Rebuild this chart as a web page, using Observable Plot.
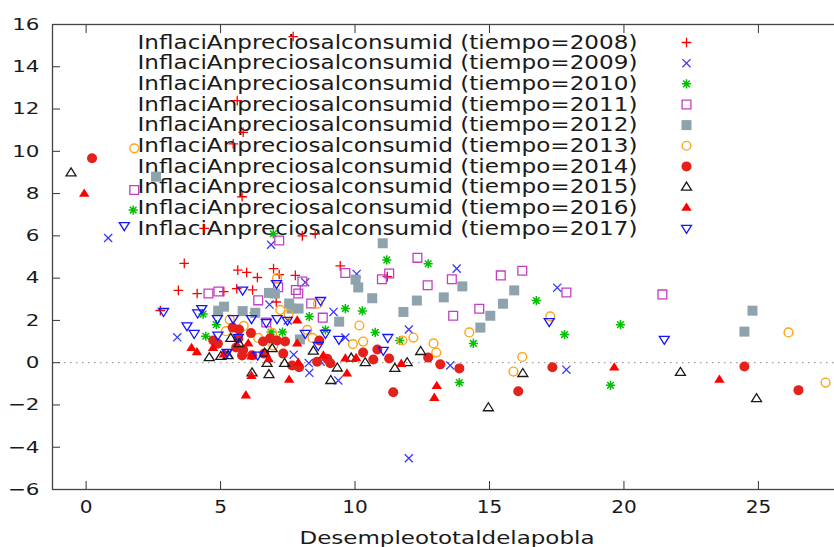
<!DOCTYPE html>
<html><head><meta charset="utf-8">
<script src="https://cdn.jsdelivr.net/npm/d3@7"></script>
<script src="https://cdn.jsdelivr.net/npm/@observablehq/plot@0.6"></script>
<style>body{margin:0;background:#fff}svg{display:block}</style>
</head><body><div id="chart"></div>
<script>
const years = [2008, 2009, 2010, 2011, 2012, 2013, 2014, 2015, 2016, 2017];
const labelPrefix = "InflaciAnpreciosalconsumid";
const xLabel = "Desempleototaldelapobla";
const xTicks = [0, 5, 10, 15, 20, 25];
const yTicks = [-6, -4, -2, 0, 2, 4, 6, 8, 10, 12, 14, 16];

const s2008 = [[7.70,15.43],[5.62,12.4],[5.84,10.9],[5.47,10.35],[5.80,7.85],[4.39,6.35],[8.04,6.0],[8.52,6.1],
  [3.65,4.7],[3.43,3.42],[4.13,3.27],[5.64,4.38],[5.97,4.27],[6.37,4.03],[5.6,3.5],[6.19,3.44],[2.76,2.47],
  [6.97,4.45],[7.18,4.17],[7.78,4.13],[7.07,2.87],[9.45,4.58],[11.2,4.07],[5.12,3.36]];
const s2009 = [[0.82,5.9],[6.88,5.58],[10.06,4.2],[13.78,4.45],[3.39,1.2],[8.15,3.8],[6.82,2.75],[9.2,2.4],
  [7.5,2.0],[12.0,1.57],[9.64,1.19],[7.72,0.38],[8.28,-0.02],[8.3,-0.48],[8.72,0.05],[9.38,-0.84],[13.54,-0.13],
  [17.52,3.55],[17.86,-0.33],[12.0,-4.52],[5.28,0.43]];
const s2010 = [[1.75,7.22],[6.96,6.1],[12.72,4.68],[11.18,4.86],[9.64,2.56],[10.27,2.45],[8.3,2.18],[7.3,1.45],
  [8.9,1.55],[10.75,1.43],[11.66,1.05],[14.4,0.91],[13.88,-0.94],[16.74,2.94],[17.79,1.33],[19.87,1.8],[19.5,-1.07],
  [4.35,2.3],[4.45,1.25],[4.84,1.8],[6.25,2.36],[6.88,1.45]];
const s2011 = [[1.79,8.17],[7.18,5.78],[9.64,4.24],[11.0,3.95],[11.27,4.22],[12.32,4.96],[13.6,3.95],[15.42,4.13],
  [16.22,4.35],[12.7,3.66],[8.04,3.84],[7.14,3.57],[7.8,3.44],[7.89,3.27],[8.37,2.8],[8.8,2.13],[14.62,2.55],
  [13.65,2.22],[6.7,1.9],[17.86,3.32],[21.43,3.23],[4.55,3.27],[4.92,3.37],[6.4,2.95]];
const s2012 = [[2.6,8.8],[11.03,5.65],[10.02,3.93],[10.12,3.56],[10.64,3.05],[11.8,2.4],[12.3,2.94],[13.3,3.09],
  [13.99,3.61],[15.92,3.42],[15.5,2.79],[15.03,2.22],[14.66,1.66],[9.41,1.94],[6.8,3.3],[7.02,3.27],[7.55,2.8],
  [7.9,2.56],[7.64,2.56],[24.78,2.46],[24.48,1.47],[4.91,2.46],[5.13,2.65],[5.82,2.44],[6.29,2.36],[7.95,1.1]];
const s2013 = [[1.79,10.14],[7.1,4.0],[7.22,2.5],[7.53,2.3],[10.16,1.76],[8.62,2.79],[8.22,1.55],[8.42,1.17],
  [10.3,1.0],[9.92,0.88],[11.76,1.05],[12.17,1.19],[12.92,0.91],[13.02,0.48],[14.25,1.43],[16.22,0.27],[15.89,-0.42],
  [17.26,2.19],[26.12,1.43],[27.5,-0.94],[5.2,1.49],[5.34,2.04],[5.86,1.74],[6.4,1.17],[6.96,0.81],[6.92,1.4]];
const s2014 = [[0.22,9.67],[4.73,1.05],[4.9,0.9],[5.66,1.15],[6.13,1.4],[5.58,0.72],[5.84,0.6],[5.8,0.34],
  [6.17,0.35],[6.62,0.43],[6.58,1.0],[6.84,1.15],[7.1,1.05],[5.69,1.57],[5.45,1.66],[7.4,1.0],[7.33,0.43],
  [7.66,-0.13],[7.92,-0.22],[8.97,0.19],[9.08,-0.03],[8.67,1.05],[10.3,0.48],[10.68,0.15],[10.83,0.62],[11.27,0.2],
  [11.42,-1.4],[12.72,0.24],[13.17,-0.08],[13.88,-0.27],[16.07,-1.35],[8.59,0.05],[17.34,-0.22],[24.48,-0.18],[26.49,-1.3]];
const s2015 = [[-0.56,8.98],[4.58,0.24],[5.01,0.3],[5.38,1.15],[5.69,0.9],[6.17,-0.48],[6.8,-0.56],[6.64,0.45],
  [6.92,0.67],[5.28,0.34],[6.73,-0.03],[7.38,-0.03],[8.45,0.55],[9.1,-0.84],[9.34,-0.25],[9.86,0.22],[10.38,0.0],
  [11.48,-0.27],[11.94,0.0],[12.44,0.53],[14.96,-2.13],[16.24,-0.51],[22.1,-0.46],[24.93,-1.7]];
const s2016 = [[-0.07,8.0],[3.92,0.7],[4.12,0.5],[4.72,0.7],[5.12,0.4],[5.94,-1.54],[6.15,-0.62],[6.03,0.91],
  [6.15,0.3],[6.79,0.17],[7.85,2.0],[7.85,0.91],[7.89,0.0],[7.55,-0.8],[8.82,0.34],[9.64,0.2],[10.04,0.22],
  [9.7,-0.51],[11.72,-0.05],[13.04,-1.1],[12.95,-1.66],[19.64,-0.22],[23.55,-0.8]];
const s2017 = [[1.42,6.48],[2.88,2.42],[3.75,1.74],[4.02,1.38],[4.15,2.35],[4.3,2.56],[4.9,1.3],[4.88,2.08],
  [5.47,2.08],[5.82,3.43],[6.15,2.08],[5.24,0.48],[6.38,0.36],[7.08,3.74],[8.72,2.94],[6.7,1.9],[7.1,2.08],
  [7.48,2.0],[8.15,1.38],[8.63,0.81],[9.4,1.1],[11.22,1.19],[11.05,0.58],[17.22,1.94],[21.5,1.1],[8.9,1.38],[5.66,1.2]];

const seriesData = [s2008, s2009, s2010, s2011, s2012, s2013, s2014, s2015, s2016, s2017];

// custom symbols (size = π r²)
const plusSym = {draw(c, size) { const r = Math.sqrt(size / Math.PI);
  c.moveTo(-r, 0); c.lineTo(r, 0); c.moveTo(0, -r); c.lineTo(0, r); }};
const timesSym = {draw(c, size) { const r = Math.sqrt(size / Math.PI) * 0.75;
  c.moveTo(-r, -r); c.lineTo(r, r); c.moveTo(-r, r); c.lineTo(r, -r); }};
const asterisk8 = {draw(c, size) { const r = Math.sqrt(size / Math.PI); const d = r * 0.72;
  c.moveTo(-r, 0); c.lineTo(r, 0); c.moveTo(0, -r); c.lineTo(0, r);
  c.moveTo(-d, -d); c.lineTo(d, d); c.moveTo(-d, d); c.lineTo(d, -d); }};
const squareSym = {draw(c, size) { const r = Math.sqrt(size / Math.PI);
  c.moveTo(-r, -r); c.lineTo(r, -r); c.lineTo(r, r); c.lineTo(-r, r); c.closePath(); }};
const triUp = {draw(c, size) { const w = Math.sqrt(size / Math.PI); const H = w * 1.6;
  c.moveTo(0, -H * 0.62); c.lineTo(w, H * 0.38); c.lineTo(-w, H * 0.38); c.closePath(); }};
const triDown = {draw(c, size) { const w = Math.sqrt(size / Math.PI); const H = w * 1.6;
  c.moveTo(0, H * 0.62); c.lineTo(w, -H * 0.38); c.lineTo(-w, -H * 0.38); c.closePath(); }};

const styles = [
  {symbol: plusSym, color: "#ff0000", filled: false, r: 4.8, sw: 1.3},
  {symbol: timesSym, color: "#3a3aff", filled: false, r: 5.4, sw: 1.3},
  {symbol: asterisk8, color: "#00c000", filled: false, r: 4.6, sw: 1.5},
  {symbol: squareSym, color: "#c23fc2", filled: false, r: 4.4, sw: 1.3},
  {symbol: squareSym, color: "#8fa3ad", filled: true, r: 5.0, sw: 0},
  {symbol: "circle", color: "#ffa514", filled: false, r: 4.4, sw: 1.4},
  {symbol: "circle", color: "#e3221c", filled: true, r: 5.0, sw: 0},
  {symbol: triUp, color: "#1a1a1a", filled: false, r: 5.0, sw: 1.3},
  {symbol: triUp, color: "#ff0000", filled: true, r: 5.2, sw: 0},
  {symbol: triDown, color: "#1414ff", filled: false, r: 5.0, sw: 1.3}
];

const font = "DejaVu Sans, Verdana, sans-serif";

const dotOpts = (st) => ({symbol: () => st.symbol, r: st.r,
  fill: st.filled ? st.color : "none", stroke: st.filled ? "none" : st.color, strokeWidth: st.sw});

const pointMarks = seriesData.map((pts, i) => {
  const rows = pts.map(([x, y]) => ({x, y, year: years[i]}));
  return Plot.dot(rows, {x: "x", y: "y", ...dotOpts(styles[i])});
});

const legendMarks = seriesData.flatMap((pts, i) => {
  const dy = 18 + i * 20.65;
  return [
    Plot.text([`${labelPrefix} (tiempo=${years[i]})`], {text: d => d, frameAnchor: "top-left", dx: 585, dy,
      textAnchor: "end", lineAnchor: "middle", fontSize: 19.5, fill: "#1a1a1a", className: "legtext"}),
    Plot.dot([years[i]], {frameAnchor: "top-left", dx: 634, dy, ...dotOpts(styles[i])})
  ];
});

const chart = Plot.plot({
  width: 834, height: 547,
  marginLeft: 52, marginRight: -7, marginTop: 24, marginBottom: 58,
  style: {fontFamily: font, background: "#fff", color: "#1a1a1a"},
  x: {domain: [-1.25, 28.09], axis: null},
  y: {domain: [-6, 16], axis: null},
  marks: [
    Plot.ruleY([0], {stroke: "#888", strokeDasharray: "1.5,4.5", strokeWidth: 1}),
    Plot.axisX(xTicks, {anchor: "bottom", label: null, tickSize: -8, tickPadding: 19, fontSize: 17, stroke: "#333", fill: "#1a1a1a", className: "xtick"}),
    Plot.axisX(xTicks, {anchor: "top", label: null, tickSize: -8, tickFormat: () => "", stroke: "#333"}),
    Plot.axisY(yTicks, {anchor: "left", label: null, tickSize: -8, tickPadding: 21, fontSize: 16.5, stroke: "#333", fill: "#1a1a1a", className: "ytick"}),
    Plot.axisY(yTicks, {anchor: "right", label: null, tickSize: -8, tickFormat: () => "", stroke: "#333"}),
    Plot.frame({stroke: "#444", strokeWidth: 1.3}),
    Plot.text([xLabel], {text: d => d, frameAnchor: "bottom", dy: 49, lineAnchor: "middle", fontSize: 17.5, fill: "#1a1a1a", className: "xlab"}),
    ...legendMarks,
    ...pointMarks
  ]
});
document.getElementById("chart").append(chart);
function stretch(sel, fn) {
  chart.querySelectorAll(sel).forEach(t => {
    const w = t.getComputedTextLength();
    if (!w) return;
    t.setAttribute("textLength", fn(w));
    t.setAttribute("lengthAdjust", "spacingAndGlyphs");
  });
}
stretch(".legtext text", () => 500);
stretch(".xlab text", () => 295);
stretch(".ytick text", w => w * 1.3);
stretch(".xtick text", w => w * 1.18);
</script>
</body></html>
